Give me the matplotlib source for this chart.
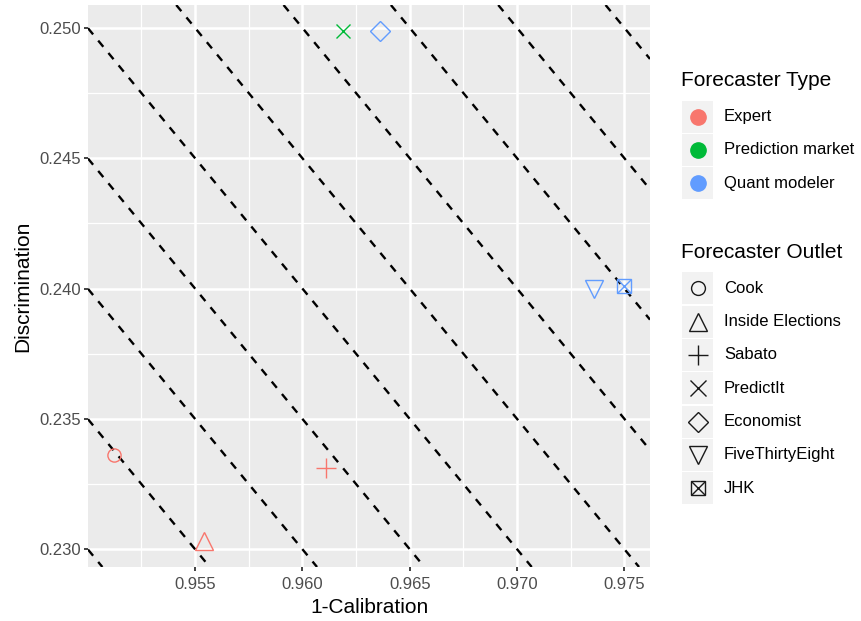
import numpy as np
import matplotlib
matplotlib.use('Agg')
import matplotlib.pyplot as plt
from matplotlib.patches import Rectangle

plt.rcParams['font.family'] = ['Liberation Sans', 'DejaVu Sans']

# values
outlets = ['Cook', 'Inside Elections', 'Sabato', 'PredictIt', 'Economist', 'FiveThirtyEight', 'JHK']
types = ['Expert', 'Expert', 'Expert', 'Prediction market', 'Quant modeler', 'Quant modeler', 'Quant modeler']
calibration = [0.9512, 0.9554, 0.9611, 0.9619, 0.9636, 0.9736, 0.9750]
discrimination = [0.2336, 0.2303, 0.2331, 0.2499, 0.2499, 0.2400, 0.2401]

type_names = ['Expert', 'Prediction market', 'Quant modeler']
type_colors = ['#F8766D', '#00BA38', '#619CFF']

# dashed reference lines: 1-Calibration + Discrimination = c
line_sums = [1.180, 1.185, 1.190, 1.195, 1.200, 1.205, 1.210, 1.215, 1.220, 1.225]

x_breaks = [0.955, 0.960, 0.965, 0.970, 0.975]
y_breaks = [0.230, 0.235, 0.240, 0.245, 0.250]

# ggplot-like shapes per outlet: (marker, size)
shapes = {
    'Cook': ('o', 9.5),
    'Inside Elections': ('^', 12.5),
    'Sabato': ('+', 14),
    'PredictIt': ('x', 10.5),
    'Economist': ('D', 10),
    'FiveThirtyEight': ('v', 13),
    'JHK': ('s', 9.5),
}


def draw_shape(a, x, y, outlet, color, scale=1.0, **kw):
    m, s = shapes[outlet]
    s = s * scale
    a.plot([x], [y], marker=m, ms=s, mfc='none', mec=color, mew=1.0,
           linestyle='none', **kw)
    if outlet == 'JHK':
        a.plot([x], [y], marker='x', ms=s, mec=color, mew=1.0,
               linestyle='none', **kw)


fig = plt.figure(figsize=(8.61, 6.21), dpi=100)
ax = fig.add_axes([88 / 861, 54 / 621, 562 / 861, 562 / 621])

ax.set_facecolor('#EBEBEB')
for sp in ax.spines.values():
    sp.set_visible(False)

for c in line_sums:
    ax.axline((0.95, c - 0.95), slope=-1, color='black', lw=1.7,
              linestyle=(0, (3.4, 3.4)), zorder=2)

for x, y, t, o in zip(calibration, discrimination, types, outlets):
    draw_shape(ax, x, y, o, type_colors[type_names.index(t)], zorder=3)

# ggplot style 5% expansion
xr = max(calibration) - min(calibration)
yr = max(discrimination) - min(discrimination)
ax.set_xlim(min(calibration) - 0.05 * xr, max(calibration) + 0.05 * xr)
ax.set_ylim(min(discrimination) - 0.05 * yr, max(discrimination) + 0.05 * yr)

ax.set_xticks(x_breaks)
ax.set_xticklabels(['%.3f' % v for v in x_breaks])
ax.set_yticks(y_breaks)
ax.set_yticklabels(['%.3f' % v for v in y_breaks])
ax.set_xticks([0.9525, 0.9575, 0.9625, 0.9675, 0.9725], minor=True)
ax.set_yticks([0.2325, 0.2375, 0.2425, 0.2475], minor=True)
ax.set_axisbelow(True)
ax.grid(which='major', color='white', lw=1.8)
ax.grid(which='minor', color='white', lw=0.9)
ax.tick_params(which='major', length=2.8, width=1.3, color='#333333',
               labelcolor='#4D4D4D', labelsize=12, pad=2.2)
ax.tick_params(axis='x', which='major', pad=4.5)
ax.tick_params(which='minor', length=0)

ax.set_xlabel('1-Calibration', fontsize=15, labelpad=4)
ax.set_ylabel('Discrimination', fontsize=15, labelpad=5)

# legends drawn by hand in pixel coordinates
lg = fig.add_axes([660 / 861, 0, 201 / 861, 1])
lg.set_xlim(660, 861)
lg.set_ylim(621, 0)
lg.axis('off')

lg.text(681, 81, 'Forecaster Type', fontsize=15, va='center', ha='left')
for i, (name, col) in enumerate(zip(type_names, type_colors)):
    cy = 116.7 + i * 33.3
    lg.add_patch(Rectangle((682, cy - 16), 31, 32, facecolor='#F2F2F2',
                           edgecolor='none'))
    lg.plot([697.5], [cy], marker='o', ms=11, color=col, linestyle='none')
    lg.text(724, cy, name, fontsize=12, va='center', ha='left')

lg.text(681, 252, 'Forecaster Outlet', fontsize=15, va='center', ha='left')
for i, o in enumerate(outlets):
    cy = 288.3 + i * 33.3
    lg.add_patch(Rectangle((682, cy - 16), 31, 32, facecolor='#F2F2F2',
                           edgecolor='none'))
    draw_shape(lg, 697.5, cy, o, '#1A1A1A', scale=1.05)
    lg.text(724, cy, o, fontsize=12, va='center', ha='left')

fig.savefig('out.png', dpi=100)
